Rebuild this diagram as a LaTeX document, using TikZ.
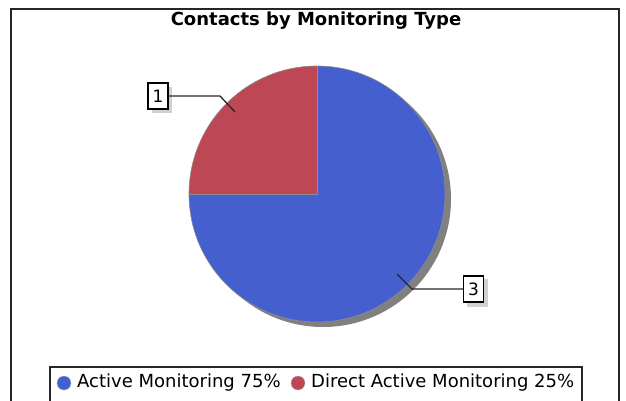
\documentclass[tikz,border=0pt]{standalone}
\usepackage{fontspec}
\setmainfont{DejaVu Sans}
\begin{document}
\begin{tikzpicture}[x=1pt,y=-1pt,
  frameline/.style={draw=black!85,line width=1.4pt},
  slicestyle/.style={draw=black!45,line width=0.6pt},
  lblbox/.style={draw=black,line width=1.2pt,fill=white,inner sep=2pt,font=\fontsize{17}{17}\selectfont,minimum width=20pt,minimum height=26pt},
  lblshadow/.style={fill=black!18},
  leader/.style={draw=black!85,line width=1.3pt},
  legdot/.style={circle,inner sep=0pt,minimum size=14pt,draw=black!30,line width=0.4pt}]
\definecolor{pieblue}{RGB}{69,95,207}
\definecolor{piered}{RGB}{190,71,85}
\useasboundingbox (0,0) rectangle (626,400);
% frame
\draw[frameline] (11,403) -- (11,9) -- (619,9) -- (619,403);
% title
\node[font=\fontsize{18}{18}\selectfont\bfseries] (title) at (316,21) {Contacts by Monitoring Type};
% pie
\coordinate (c) at (317,194);
\coordinate (ptop) at (317,66);
\coordinate (pleft) at (189,194);
\fill[black!50] (323,199) circle[radius=128];
\fill[pieblue] (c) -- (ptop) arc[start angle=-90,end angle=180,radius=128] -- cycle;
\fill[piered] (c) -- (ptop) arc[start angle=-90,end angle=-180,radius=128] -- cycle;
\draw[slicestyle] (c) circle[radius=128];
\draw[slicestyle] (ptop) -- (c) -- (pleft);
% labels
\fill[lblshadow] (152,87) rectangle (172,113);
\node[lblbox] (l1) at (158,96) {1};
\coordinate (e1) at (220,96);
\coordinate (p1) at (235,112);
\draw[leader] (l1.east) -- (e1) -- (p1);
\fill[lblshadow] (467,279) rectangle (488,307);
\node[lblbox] (l3) at (473.5,289) {3};
\coordinate (e3) at (412,289);
\coordinate (p3) at (397,274);
\draw[leader] (l3.west) -- (e3) -- (p3);
% legend
\draw[frameline,line width=1.2pt] (50,403) -- (50,367) -- (582,367) -- (582,403);
\node[legdot,fill=pieblue] (d1) at (64,383) {};
\node[anchor=west,font=\fontsize{18}{18}\selectfont,inner sep=0pt] (t1) at (77,383) {Active Monitoring 75\%};
\node[legdot,fill=piered] (d2) at (298,383) {};
\node[anchor=west,font=\fontsize{18}{18}\selectfont,inner sep=0pt] (t2) at (311,383) {Direct Active Monitoring 25\%};
\end{tikzpicture}
\end{document}
